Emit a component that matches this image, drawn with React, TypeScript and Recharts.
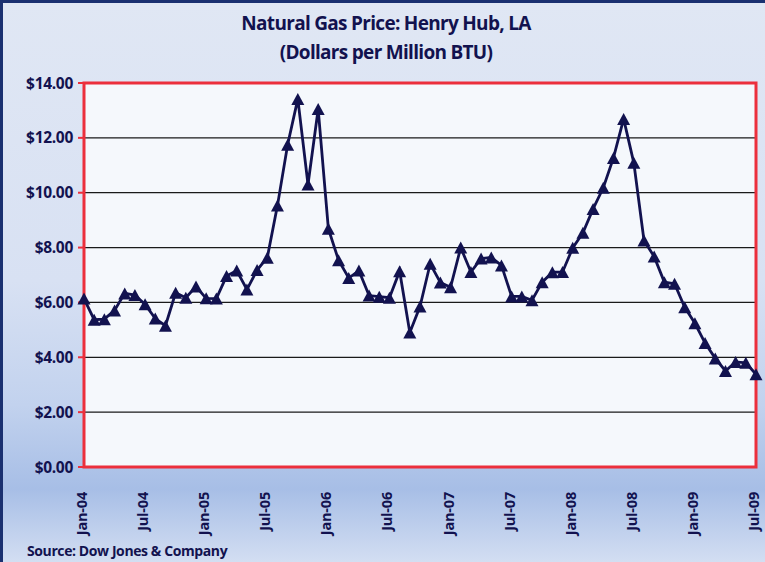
import React from "react"
import { LineChart, Line, XAxis, YAxis, CartesianGrid, ReferenceArea } from "recharts"

const monthNames = ["Jan", "Feb", "Mar", "Apr", "May", "Jun", "Jul", "Aug", "Sep", "Oct", "Nov", "Dec"]
const years = ["04", "05", "06", "07", "08", "09"]

// $/MMBtu, monthly, Jan-04 .. Jul-09
const prices = [
  6.14, 5.37, 5.39, 5.71, 6.33, 6.27, 5.93, 5.41, 5.15, 6.35, 6.17, 6.58,
  6.15, 6.14, 6.96, 7.16, 6.47, 7.18, 7.63, 9.53, 11.75, 13.42, 10.3, 13.05,
  8.69, 7.54, 6.89, 7.16, 6.25, 6.21, 6.17, 7.14, 4.9, 5.85, 7.41, 6.73,
  6.55, 8.0, 7.11, 7.6, 7.64, 7.35, 6.22, 6.22, 6.08, 6.74, 7.1, 7.11,
  7.99, 8.54, 9.41, 10.18, 11.27, 12.69, 11.09, 8.26, 7.67, 6.74, 6.68, 5.82,
  5.24, 4.52, 3.96, 3.5, 3.83, 3.8, 3.38,
]

const yTicks = [0, 2, 4, 6, 8, 10, 12, 14]

const months: string[] = []
years.forEach((y) => monthNames.forEach((m) => months.push(`${m}-${y}`)))

const data = prices.map((price, i) => ({ month: months[i], price }))

const NAVY = "#12124f"
const RED = "#ec2f3c"
const FONT = "'Open Sans', sans-serif"

const Triangle = (props: any) => {
  const { cx, cy, index } = props
  if (cx == null || cy == null) return null
  const w = 6.5
  const h = 6
  return (
    <polygon
      key={`tri-${index}`}
      points={`${cx},${cy - h} ${cx - w},${cy + h} ${cx + w},${cy + h}`}
      fill={NAVY}
    />
  )
}

const XTick = (props: any) => {
  const { x, y, payload } = props
  return (
    <text
      x={0}
      y={0}
      transform={`translate(${x + 3},${y + 17}) rotate(-90)`}
      textAnchor="end"
      fill={NAVY}
      fontFamily={FONT}
      fontWeight={700}
      fontSize={14.5}
      letterSpacing={-0.2}
    >
      {payload.value}
    </text>
  )
}

export default function App() {
  return (
    <div
      style={{
        position: "absolute",
        left: 0,
        top: 0,
        width: 765,
        height: 562,
        background:
          "linear-gradient(to bottom, #e0e7f4 0%, #d8e1f3 50%, #c2d2ee 72%, #a7bee6 87%, #d3def2 100%)",
        boxShadow: "inset 3px 3px 0 #1a3070",
        fontFamily: FONT,
        overflow: "hidden",
      }}
    >
      <div
        style={{
          position: "absolute",
          left: 0,
          width: 772,
          top: 9,
          textAlign: "center",
          color: NAVY,
          fontWeight: 700,
          fontSize: 19,
          letterSpacing: -0.7,
          lineHeight: "29px",
        }}
      >
        <div>Natural Gas Price: Henry Hub, LA</div>
        <div>(Dollars per Million BTU)</div>
      </div>
      <div
        style={{
          position: "absolute",
          left: 27,
          top: 541,
          color: NAVY,
          fontWeight: 700,
          fontSize: 14,
          letterSpacing: -0.4,
        }}
      >
        Source: Dow Jones &amp; Company
      </div>
      <div style={{ position: "absolute", left: 0, top: 0 }}>
        <LineChart width={765} height={562} data={data} margin={{ top: 83, right: 9, bottom: 0, left: 0 }}>
          <CartesianGrid vertical={false} fill="#f5f8fc" fillOpacity={1} stroke="#1a1a1a" strokeWidth={1.2} />
          <XAxis
            dataKey="month"
            interval={5}
            height={95}
            tickLine={false}
            axisLine={false}
            tick={<XTick />}
          />
          <YAxis
            domain={[0, 14]}
            ticks={yTicks}
            width={84}
            tickSize={6}
            tickMargin={5}
            axisLine={false}
            tickLine={{ stroke: RED, strokeWidth: 2 }}
            tickFormatter={(v: number) => `$${v.toFixed(2)}`}
            tick={{ fill: NAVY, fontFamily: FONT, fontWeight: 700, fontSize: 15.5, letterSpacing: -0.3 }}
          />
          <ReferenceArea
            x1={months[0]}
            x2={months[prices.length - 1]}
            y1={0}
            y2={14}
            fill="none"
            stroke={RED}
            strokeWidth={3}
          />
          <Line
            type="linear"
            dataKey="price"
            stroke={NAVY}
            strokeWidth={2.8}
            dot={Triangle}
            activeDot={false}
            isAnimationActive={false}
          />
        </LineChart>
      </div>
    </div>
  )
}
